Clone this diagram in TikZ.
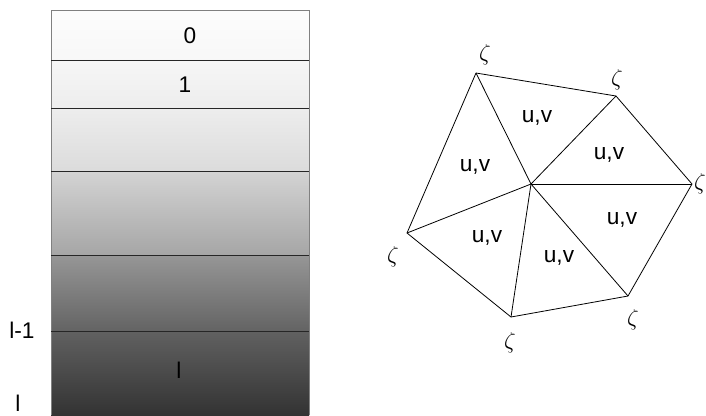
\documentclass[tikz,border=0pt]{standalone}
\usepackage{fontspec}
\setmainfont{Liberation Sans}
\usetikzlibrary{positioning}

\begin{document}
\begin{tikzpicture}[
        x=0.75pt, y=-0.75pt,
        frame/.style={draw=black!50, line width=0.6pt},
        divider/.style={draw=black!85, line width=0.6pt},
        edge/.style={draw=black, line width=0.6pt, line join=round},
        level/.style={font=\fontsize{17}{19}\selectfont, inner sep=0pt},
        cell/.style={font=\fontsize{17}{19}\selectfont, inner sep=0pt},
        vertex/.style={font=\fontsize{16}{18}\selectfont, inner sep=0pt}
    ]
        \useasboundingbox (0,0) rectangle (706,415);

        % shaded column of levels
        \foreach \ya/\yb/\ca/\cb in {10/60/1/3, 60/108/3.5/7, 108/171/7/14,
                171/255/17/35, 255/331/41/61, 331/415/62/80}
            \shade[top color=black!\ca, bottom color=black!\cb] (51,\ya) rectangle (309,\yb);
        \draw[frame] (51,415) -- (51,10) -- (309,10) -- (309,415);
        \foreach \y in {60,108,171,255,331}
            \draw[divider] (51,\y) -- (309,\y);

        \node[level] (lev0) at (190,36) {0};
        \node[level] (lev1) at (185,85) {1};
        \node[level] (levl) at (179,370) {l};
        \node[level] (labl1) at (22,330) {l-1};
        \node[level] (labl) at (18,403) {l};

        % triangle fan
        \coordinate (c) at (531,184);
        \coordinate (p1) at (476,73);
        \coordinate (p2) at (616,96);
        \coordinate (p3) at (692,184);
        \coordinate (p4) at (628,296);
        \coordinate (p5) at (511,317);
        \coordinate (p6) at (407,233);

        \draw[edge] (p1) -- (p2) -- (p3) -- (p4) -- (p5) -- (p6) -- cycle;
        \foreach \i in {1,...,6}
            \draw[edge] (c) -- (p\i);

        \node[vertex] (z1) at (485,55) {$\zeta$};
        \node[vertex] (z2) at (617,80) {$\zeta$};
        \node[vertex] (z3) at (700,184) {$\zeta$};
        \node[vertex] (z4) at (633,320) {$\zeta$};
        \node[vertex] (z5) at (510,343) {$\zeta$};
        \node[vertex] (z6) at (393,257) {$\zeta$};

        \node[cell] (uv1) at (537,118) {u,v};
        \node[cell] (uv2) at (475,167) {u,v};
        \node[cell] (uv3) at (609,155) {u,v};
        \node[cell] (uv4) at (622,220) {u,v};
        \node[cell] (uv5) at (487,238) {u,v};
        \node[cell] (uv6) at (559,258) {u,v};
    \end{tikzpicture}
\end{document}
